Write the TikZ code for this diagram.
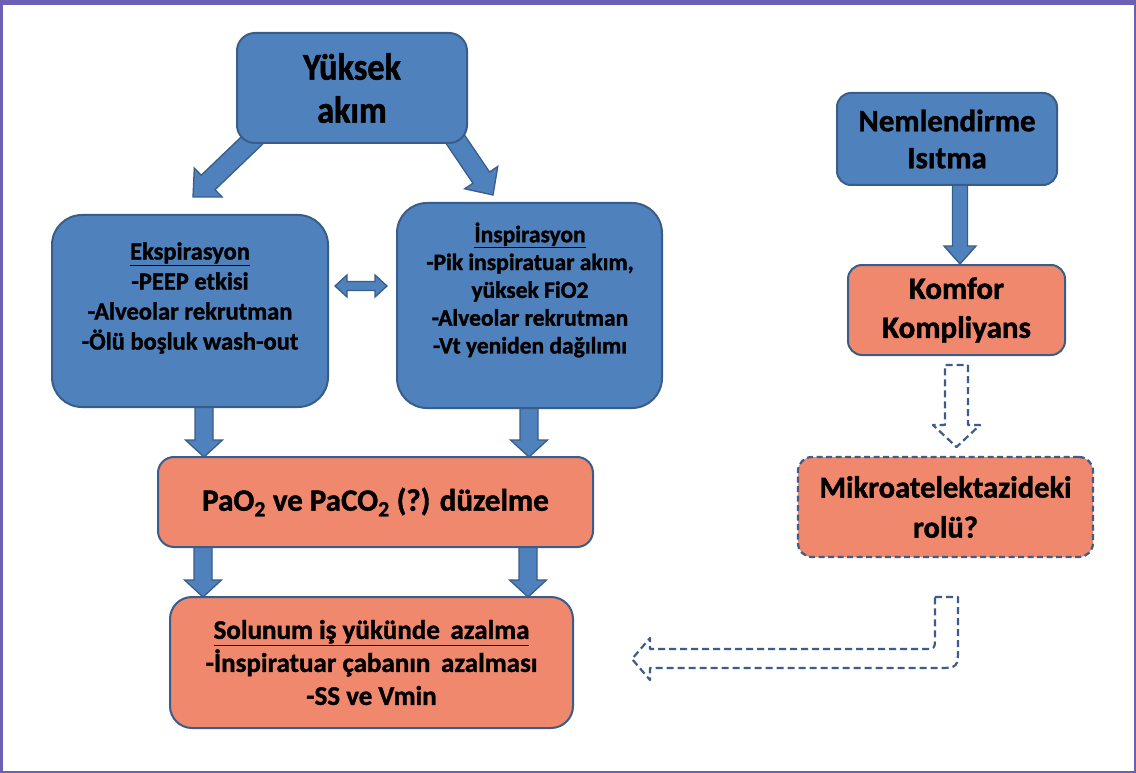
\documentclass[tikz,border=0pt]{standalone}
\usepackage{fontspec}
\setmainfont{Carlito}[BoldFeatures={FakeBold=1.3}]
\newfontfamily\tallfont{Carlito}[FakeStretch=0.9, BoldFeatures={FakeBold=1.3}]
\usetikzlibrary{calc}
\definecolor{bfill}{HTML}{4F81BD}
\definecolor{bline}{HTML}{385D8A}
\definecolor{sfill}{HTML}{F0886E}
\definecolor{dline}{HTML}{3D5C88}
\definecolor{framec}{HTML}{6B60B4}
\pgfdeclarelayer{bgzero}
\pgfdeclarelayer{bgone}
\pgfsetlayers{bgzero,bgone,main}
% block arrow: #1 start, #2 tip, #3 shaft half width, #4 head half width, #5 head length, #6 style
\newcommand\blockarr[6]{%
  \coordinate (bahead) at ($(#2)!#5!(#1)$);
  \draw[#6] ($(#1)!#3!90:(#2)$) -- ($(bahead)!#3!90:(#2)$) -- ($(bahead)!#4!90:(#2)$) -- (#2)
    -- ($(bahead)!#4!-90:(#2)$) -- ($(bahead)!#3!-90:(#2)$) -- ($(#1)!#3!-90:(#2)$) -- cycle;
}
\tikzset{
  bluebox/.style={draw=bline, fill=bfill, line width=2pt, align=center, inner sep=2pt},
  salbox/.style={draw=bline, fill=sfill, line width=2pt, align=center, inner sep=2pt},
  dashbox/.style={draw=dline, fill=sfill, line width=2.2pt, dash pattern=on 6pt off 3.5pt, align=center, inner sep=2pt},
  barrow/.style={fill=bfill, draw=bline, line width=1.3pt, line join=miter},
  darrow/.style={fill=white, draw=dline, line width=2.2pt, dash pattern=on 7pt off 4pt, line join=round},
  txt/.style={align=center, inner sep=0pt}
}
\begin{document}
\begin{tikzpicture}[x=1pt,y=-1pt]
\useasboundingbox (0,0) rectangle (1136,773);
\begin{pgfonlayer}{bgzero}
  \fill[white] (0,0) rectangle (1136,773);
\end{pgfonlayer}

% boxes
\node[bluebox, rounded corners=18pt, minimum width=230pt, minimum height=110pt,
  font=\tallfont\fontsize{38pt}{43pt}\selectfont\bfseries] (yuk) at (352,88) {Yüksek\\akım};
\node[bluebox, rounded corners=30pt, minimum width=276pt, minimum height=192pt] (eks) at (190,311) {};
\node[txt, font=\fontsize{24.5pt}{30pt}\selectfont\bfseries] (ekst) at (190,298)
  {\underline{Ekspirasyon}\\-PEEP etkisi\\-Alveolar rekrutman\\-Ölü boşluk wash-out};
\node[bluebox, rounded corners=30pt, minimum width=265pt, minimum height=205pt] (insp) at (529.5,305.5) {};
\node[txt, font=\fontsize{23.5pt}{27.8pt}\selectfont\bfseries] (inspt) at (530,290)
  {\underline{İnspirasyon}\\-Pik inspiratuar akım,\\yüksek FiO2\\-Alveolar rekrutman\\-Vt yeniden dağılımı};
\node[salbox, rounded corners=16pt, minimum width=435pt, minimum height=90pt,
  font=\fontsize{31pt}{37pt}\selectfont\bfseries] (pao) at (375.5,502)
  {PaO\textsubscript{2} ve PaCO\textsubscript{2} (?) düzelme};
\node[salbox, rounded corners=22pt, minimum width=403pt, minimum height=131pt,
  font=\fontsize{27pt}{33pt}\selectfont\bfseries] (sol) at (371.5,662.5)
  {\underline{Solunum iş yükünde\, azalma}\\-İnspiratuar çabanın\, azalması\\-SS ve Vmin};
\node[bluebox, rounded corners=14pt, minimum width=220pt, minimum height=92pt,
  font=\fontsize{31pt}{37pt}\selectfont\bfseries] (nem) at (947,139) {Nemlendirme\\Isıtma};
\node[salbox, rounded corners=14pt, minimum width=217pt, minimum height=90pt,
  font=\fontsize{31pt}{39pt}\selectfont\bfseries] (kom) at (956.5,310) {Komfor\\Kompliyans};
\node[dashbox, rounded corners=14pt, minimum width=295pt, minimum height=100pt,
  font=\fontsize{30.5pt}{40pt}\selectfont\bfseries] (mik) at (945.5,507) {Mikroatelektazideki\\rolü?};

% arrow end points
\coordinate (a1s) at (266,127);
\coordinate (a1t) at (193,197);
\coordinate (a2s) at (445,124);
\coordinate (a2t) at (493,195);
\coordinate (a3s) at (204,398);
\coordinate (a3t) at (204,457);
\coordinate (a4s) at (529,398);
\coordinate (a4t) at (529,457);
\coordinate (a5s) at (203,540);
\coordinate (a5t) at (203,597);
\coordinate (a6s) at (528,540);
\coordinate (a6t) at (528,597);
\coordinate (a7s) at (960,180);
\coordinate (a7t) at (960,264);
\coordinate (a8s) at (956.5,365);
\coordinate (a8t) at (956.5,447);
\coordinate (dL) at (335,286);
\coordinate (dR) at (387,286);
\coordinate (bentA) at (946.5,597);
\coordinate (bentB) at (632,659);

\begin{pgfonlayer}{bgone}
  \blockarr{a1s}{a1t}{10pt}{20pt}{21pt}{barrow}
  \blockarr{a2s}{a2t}{10pt}{20pt}{21pt}{barrow}
  \blockarr{a3s}{a3t}{9pt}{18.5pt}{17pt}{barrow}
  \blockarr{a4s}{a4t}{9pt}{18.5pt}{17pt}{barrow}
  \blockarr{a5s}{a5t}{9pt}{18.5pt}{17pt}{barrow}
  \blockarr{a6s}{a6t}{9pt}{18.5pt}{17pt}{barrow}
  \blockarr{a7s}{a7t}{7.5pt}{16pt}{18pt}{barrow}
\end{pgfonlayer}

% double arrow between Ekspirasyon and Inspirasyon
\draw[barrow] (dL) -- ($(dL)+(12,-11)$) -- ($(dL)+(12,-4.5)$) -- ($(dR)+(-12,-4.5)$) -- ($(dR)+(-12,-11)$)
  -- (dR) -- ($(dR)+(-12,11)$) -- ($(dR)+(-12,4.5)$) -- ($(dL)+(12,4.5)$) -- ($(dL)+(12,11)$) -- cycle;

% dashed hollow arrow Komfor -> Mikro
\blockarr{a8s}{a8t}{11.5pt}{23.5pt}{22pt}{darrow}

% dashed bent arrow
\draw[darrow] ($(bentA)+(-11.5,0)$) -- ($(bentA)+(11.5,0)$) -- ($(bentA)+(11.5,49)$)
  .. controls ($(bentA)+(11.5,71)$) .. ($(bentA)+(-10,71)$)
  -- ($(bentB)+(18,9)$) -- ($(bentB)+(18,21)$) -- (bentB) -- ($(bentB)+(18,-21)$) -- ($(bentB)+(18,-10)$)
  -- ($(bentA)+(-24,52)$) .. controls ($(bentA)+(-11.5,52)$) .. ($(bentA)+(-11.5,40)$) -- cycle;

% frame
\fill[framec] (0,0) rectangle (1136,5.5);
\draw[framec, line width=2.5pt] (1.25,0) -- (1.25,771.75) -- (1134.75,771.75) -- (1134.75,0);
\end{tikzpicture}
\end{document}
